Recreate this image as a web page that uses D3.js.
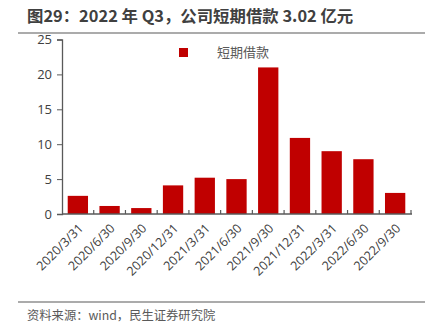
<!DOCTYPE html>
<html>
<head>
<meta charset="utf-8">
<script src="https://cdn.jsdelivr.net/npm/d3@7"></script>
<style>
  html, body { margin: 0; padding: 0; background: #fff; }
  svg { display: block; font-family: "Noto Sans CJK SC", "Open Sans", sans-serif; }
</style>
</head>
<body>
<svg id="chart" width="431" height="334"></svg>
<script>
// Quarter-end dates and short-term borrowings (亿元)
const categories = ["2020/3/31", "2020/6/30", "2020/9/30", "2020/12/31", "2021/3/31", "2021/6/30",
                    "2021/9/30", "2021/12/31", "2022/3/31", "2022/6/30", "2022/9/30"];
const shortTermLoans = [2.6, 1.15, 0.85, 4.1, 5.2, 5.0, 21.0, 10.9, 9.0, 7.85, 3.02];
const yTicks = [0, 5, 10, 15, 20, 25];
const seriesName = "短期借款";
const titleText = "图29：2022 年 Q3，公司短期借款 3.02 亿元";
const sourceText = "资料来源：wind，民生证券研究院";

const svg = d3.select("#chart");
const axisColor = "#595959";
const barColor = "#C00000";

// Title and rule beneath it
svg.append("text")
  .attr("x", 27).attr("y", 22)
  .attr("font-size", 16.4).attr("font-weight", "bold")
  .attr("fill", "#404040")
  .text(titleText);
svg.append("line")
  .attr("x1", 18).attr("x2", 425).attr("y1", 33).attr("y2", 33)
  .attr("stroke", "#595959").attr("stroke-width", 1.2);

// Scales
const x = d3.scaleBand().domain(categories).range([62, 411]).paddingInner(0.36).paddingOuter(0.18);
const y = d3.scaleLinear().domain([0, 25]).range([214, 39.5]);

// Bars
svg.append("g").selectAll("rect")
  .data(shortTermLoans)
  .join("rect")
  .attr("x", (d, i) => x(categories[i]))
  .attr("width", x.bandwidth())
  .attr("y", d => y(d))
  .attr("height", d => y(0) - y(d))
  .attr("fill", barColor);

// Y axis
const yAxis = svg.append("g")
  .attr("transform", "translate(62,0)")
  .call(d3.axisLeft(y).tickValues(yTicks).tickSize(5).tickPadding(5).tickFormat(d3.format("d")));
yAxis.select(".domain").attr("stroke", axisColor).attr("stroke-width", 1.3);
yAxis.selectAll(".tick line").attr("stroke", axisColor);
yAxis.selectAll(".tick text").attr("fill", "#404040").attr("font-size", 13)
  .attr("font-family", "'Open Sans', sans-serif");

// X axis: boundary ticks between categories, pointing up
const bounds = categories.map(c => x(c) - x.step() * x.paddingInner() / 2);
bounds.push(411);
const xAxis = svg.append("g").attr("transform", `translate(0,${y(0)})`);
xAxis.append("line")
  .attr("x1", 62).attr("x2", 412).attr("y1", 0).attr("y2", 0)
  .attr("stroke", axisColor).attr("stroke-width", 1.5);
xAxis.selectAll("line.tk")
  .data(bounds.slice(1))
  .join("line")
  .attr("class", "tk")
  .attr("x1", d => d).attr("x2", d => d)
  .attr("y1", 0).attr("y2", -4)
  .attr("stroke", axisColor).attr("stroke-width", 1.2);

// Rotated category labels
xAxis.selectAll("text")
  .data(categories)
  .join("text")
  .attr("transform", d => `translate(${x(d) + x.bandwidth() / 2 + 3},${12}) rotate(-45)`)
  .attr("text-anchor", "end")
  .attr("dy", "0.35em")
  .attr("font-size", 12.6)
  .attr("fill", "#404040")
  .attr("font-family", "'Open Sans', sans-serif")
  .text(d => d);

// Legend
svg.append("rect")
  .attr("x", 179).attr("y", 48).attr("width", 9).attr("height", 9)
  .attr("fill", barColor);
svg.append("text")
  .attr("x", 217).attr("y", 57)
  .attr("font-size", 13).attr("fill", "#595959")
  .text(seriesName);

// Source footer
svg.append("line")
  .attr("x1", 18).attr("x2", 425).attr("y1", 302).attr("y2", 302)
  .attr("stroke", "#595959").attr("stroke-width", 1.2);
svg.append("text")
  .attr("x", 27).attr("y", 320)
  .attr("font-size", 12.3).attr("fill", "#595959")
  .text(sourceText);
</script>
</body>
</html>
